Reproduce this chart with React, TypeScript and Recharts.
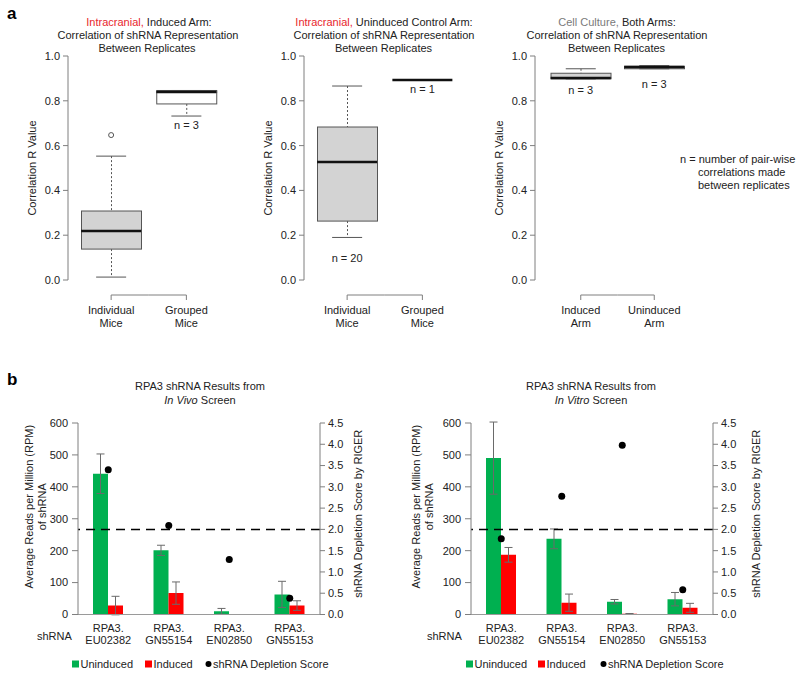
import { ComposedChart, Bar, Scatter, XAxis, YAxis, ReferenceLine, ErrorBar } from 'recharts';

const FONT = '"Liberation Sans", Arial, Helvetica, sans-serif';
const INK = '#222';
const AXIS = '#7f7f7f';
const EDGE = '#555';
const BOX_FILL = '#d3d3d3';
const GREEN = '#00b050';
const RED = '#ff0000';
const TITLE_RED = '#e8262d';

// ---- panel a: correlation between replicates ----
const MICE = ['Individual\nMice', 'Grouped\nMice'];
const ARMS = ['Induced\nArm', 'Uninduced\nArm'];
const CORR_TICKS = [0, 0.2, 0.4, 0.6, 0.8, 1];

const icInducedMin = [0.013, 0.732];
const icInducedQ1 = [0.138, 0.786];
const icInducedMedian = [0.219, 0.839];
const icInducedQ3 = [0.308, 0.846];
const icInducedMax = [0.553, 0.846];
const icInducedOutlier = [0.647, null];
const icInducedN = [41, 3];

const icUninducedMin = [0.19, 0.893];
const icUninducedQ1 = [0.263, 0.893];
const icUninducedMedian = [0.527, 0.893];
const icUninducedQ3 = [0.683, 0.893];
const icUninducedMax = [0.866, 0.893];
const icUninducedOutlier = [null, null];
const icUninducedN = [20, 1];

const cultureMin = [0.898, 0.943];
const cultureQ1 = [0.898, 0.943];
const cultureMedian = [0.902, 0.951];
const cultureQ3 = [0.923, 0.954];
const cultureMax = [0.943, 0.957];
const cultureOutlier = [null, null];
const cultureN = [3, 3];

// ---- panel b: RPA3 shRNA reads ----
const SHRNAS = ['RPA3.\nEU02382', 'RPA3.\nGN55154', 'RPA3.\nEN02850', 'RPA3.\nGN55153'];
const READS_TICKS = [0, 100, 200, 300, 400, 500, 600];
const SCORE_TICKS = [0, 0.5, 1, 1.5, 2, 2.5, 3, 3.5, 4, 4.5];
const DEPLETION_CUTOFF = 2;

const vivoUninduced = [441, 201, 10, 63];
const vivoUninducedErr = [62, 16, 9, 41];
const vivoInduced = [28, 67, 0, 28];
const vivoInducedErr = [29, 35, 0, 15];
const vivoScore = [3.4, 2.09, 1.29, 0.38];

const vitroUninduced = [490, 237, 40, 48];
const vitroUninducedErr = [113, 31, 7, 21];
const vitroInduced = [187, 37, 2, 21];
const vitroInducedErr = [23, 27, 1, 14];
const vitroScore = [1.78, 2.78, 3.98, 0.58];

const BOX_W = 60;
const CAP_W = 30;
const BOX_CHART_W = 260;
const BOX_MARGIN = { top: 56, right: 36, left: 20, bottom: 10 };
const BOX_YAXIS_W = 48;

const AxisTitle = ({ viewBox, lines, dx, dy = 0, side }: any) => {
  if (!viewBox) return null;
  const { x, y, width, height } = viewBox;
  const bx = (side === 'left' ? x + width : x) + dx;
  const cy = y + height / 2 + dy;
  return (
    <text transform={`rotate(-90 ${bx} ${cy})`} x={bx} y={cy} textAnchor="middle" fontSize={11} fill={INK}>
      {lines.map((l: string, i: number) => (
        <tspan key={i} x={bx} y={cy + i * 13}>{l}</tspan>
      ))}
    </text>
  );
};

const TwoLineTick = ({ x, y, payload, d1, d2 }: any) => {
  const lines = String(payload.value).split('\n');
  return (
    <text x={x} y={y} textAnchor="middle" fontSize={11} fill={INK}>
      {lines.map((l, i) => (
        <tspan key={i} x={x} y={y + (i === 0 ? d1 : d2)}>{l}</tspan>
      ))}
    </text>
  );
};

// R-style axis under the boxes: a bracket joining the category ticks
const BracketTick = (p: any) => {
  const { x, y, index, visibleTicksCount, padLeft } = p;
  const count = visibleTicksCount ?? 2;
  const axisW = Number.isFinite(Number(p.width))
    ? Number(p.width)
    : BOX_CHART_W - BOX_MARGIN.left - BOX_MARGIN.right - BOX_YAXIS_W;
  const half = (axisW - padLeft) / count / 2;
  const x1 = index === 0 ? x : x - half;
  const x2 = index === count - 1 ? x : x + half;
  return (
    <g>
      <line x1={x1} x2={x2} y1={y + 15} y2={y + 15} stroke={AXIS} />
      <line x1={x} x2={x} y1={y + 15} y2={y + 20} stroke={AXIS} />
      <TwoLineTick {...p} d1={33.5} d2={47} />
    </g>
  );
};

type Stats = {
  min: number[]; q1: number[]; median: number[]; q3: number[]; max: number[];
  outlier: (number | null)[]; n: number[];
};

function BoxPanel({ left, cats, stats, fills, nGap, padLeft }: { left: number; cats: string[]; stats: Stats; fills: string[]; nGap: number[]; padLeft: number }) {
  const data = cats.map((cat, i) => ({
    cat,
    base: stats.min[i],
    lowWhisker: stats.q1[i] - stats.min[i],
    lowBox: stats.median[i] - stats.q1[i],
    highBox: stats.q3[i] - stats.median[i],
    highWhisker: stats.max[i] - stats.q3[i],
    min: stats.min[i],
    median: stats.median[i],
    max: stats.max[i],
    outlier: stats.outlier[i],
    n: stats.n[i],
  }));

  const whisker = (p: any) => {
    const h = Math.abs(p.height || 0);
    if (!h) return <g />;
    const top = Math.min(p.y, p.y + p.height);
    const cx = p.x + p.width / 2;
    return <line x1={cx} x2={cx} y1={top} y2={top + h} stroke={EDGE} strokeDasharray="2 2" />;
  };
  const box = (p: any) => {
    const h = Math.abs(p.height || 0);
    if (!h) return <g />;
    const i = cats.indexOf(p.payload?.cat);
    return <rect x={p.x} y={Math.min(p.y, p.y + p.height)} width={p.width} height={h} fill={fills[i] ?? BOX_FILL} stroke={EDGE} />;
  };
  const lowCap = (p: any) => {
    if (!Number.isFinite(p.cx) || !Number.isFinite(p.cy)) return <g />;
    const i = cats.indexOf(p.payload?.cat);
    return (
      <g>
        <line x1={p.cx - CAP_W / 2} x2={p.cx + CAP_W / 2} y1={p.cy} y2={p.cy} stroke={EDGE} />
        <text x={p.cx} y={p.cy + nGap[i] + 4} textAnchor="middle" fontSize={11} fill={INK}>{`n = ${p.payload.n}`}</text>
      </g>
    );
  };
  const highCap = (p: any) => {
    if (!Number.isFinite(p.cx) || !Number.isFinite(p.cy)) return <g />;
    return <line x1={p.cx - CAP_W / 2} x2={p.cx + CAP_W / 2} y1={p.cy} y2={p.cy} stroke={EDGE} />;
  };
  const medianLine = (p: any) => {
    if (!Number.isFinite(p.cx) || !Number.isFinite(p.cy)) return <g />;
    return <line x1={p.cx - BOX_W / 2} x2={p.cx + BOX_W / 2} y1={p.cy} y2={p.cy} stroke="#111" strokeWidth={2.5} />;
  };
  const outlierDot = (p: any) => {
    if (p.payload?.outlier == null || !Number.isFinite(p.cy)) return <g />;
    return <circle cx={p.cx} cy={p.cy} r={2.5} fill="none" stroke={EDGE} />;
  };

  return (
    <div style={{ position: 'absolute', left, top: 0 }}>
      <ComposedChart width={BOX_CHART_W} height={340} data={data} margin={BOX_MARGIN}>
        <XAxis
          dataKey="cat"
          axisLine={false}
          tickLine={false}
          tickSize={0}
          tickMargin={0}
          height={50}
          interval={0}
          padding={{ left: padLeft, right: 0 }}
          tick={(p: any) => <BracketTick {...p} padLeft={padLeft} />}
        />
        <YAxis
          domain={[0, 1]}
          allowDataOverflow
          ticks={CORR_TICKS}
          tickFormatter={(v: number) => v.toFixed(1)}
          width={BOX_YAXIS_W}
          tickSize={5}
          tickMargin={3}
          axisLine={{ stroke: AXIS }}
          tickLine={{ stroke: AXIS }}
          tick={{ fill: INK, fontSize: 11 }}
          label={{ content: (p: any) => <AxisTitle viewBox={p.viewBox} lines={['Correlation R Value']} dx={-32.5} side="left" /> }}
        />
        <Bar dataKey="base" stackId="box" barSize={BOX_W} shape={() => <g />} isAnimationActive={false} />
        <Bar dataKey="lowWhisker" stackId="box" barSize={BOX_W} shape={whisker} isAnimationActive={false} />
        <Bar dataKey="lowBox" stackId="box" barSize={BOX_W} shape={box} isAnimationActive={false} />
        <Bar dataKey="highBox" stackId="box" barSize={BOX_W} shape={box} isAnimationActive={false} />
        <Bar dataKey="highWhisker" stackId="box" barSize={BOX_W} shape={whisker} isAnimationActive={false} />
        <Scatter dataKey="min" shape={lowCap} isAnimationActive={false} />
        <Scatter dataKey="max" shape={highCap} isAnimationActive={false} />
        <Scatter dataKey="median" shape={medianLine} isAnimationActive={false} />
        <Scatter dataKey="outlier" shape={outlierDot} isAnimationActive={false} />
      </ComposedChart>
    </div>
  );
}

function ReadsPanel({ left, uninduced, uninducedErr, induced, inducedErr, score, margin, leftDx, rightDx }: any) {
  const data = SHRNAS.map((name, i) => ({
    name,
    uninduced: uninduced[i],
    uninducedErr: uninducedErr[i],
    induced: induced[i],
    inducedErr: inducedErr[i],
    score: score[i],
  }));
  const dot = (p: any) => (Number.isFinite(p.cy) ? <circle cx={p.cx} cy={p.cy} r={3.5} fill="#000" /> : <g />);

  return (
    <div style={{ position: 'absolute', left, top: 400 }}>
      <ComposedChart width={400} height={278} data={data} margin={margin} barGap={0} barSize={15}>
        <XAxis
          dataKey="name"
          axisLine={{ stroke: '#9a9a9a' }}
          tickLine={false}
          tickSize={0}
          tickMargin={0}
          height={30}
          interval={0}
          tick={(p: any) => <TwoLineTick {...p} d1={17.5} d2={29} />}
        />
        <YAxis
          yAxisId="reads"
          domain={[0, 600]}
          allowDataOverflow
          ticks={READS_TICKS}
          width={45}
          tickSize={6}
          tickMargin={4}
          axisLine={{ stroke: AXIS }}
          tickLine={{ stroke: AXIS }}
          tick={{ fill: INK, fontSize: 11 }}
          label={{
            content: (p: any) => (
              <AxisTitle viewBox={p.viewBox} lines={['Average Reads per Million (RPM)', 'of shRNA']} dx={leftDx} dy={-12} side="left" />
            ),
          }}
        />
        <YAxis
          yAxisId="score"
          orientation="right"
          domain={[0, 4.5]}
          allowDataOverflow
          ticks={SCORE_TICKS}
          tickFormatter={(v: number) => v.toFixed(1)}
          width={45}
          tickSize={5}
          tickMargin={3}
          axisLine={{ stroke: AXIS }}
          tickLine={{ stroke: AXIS }}
          tick={{ fill: INK, fontSize: 11 }}
          label={{
            content: (p: any) => (
              <AxisTitle viewBox={p.viewBox} lines={['shRNA Depletion Score by RIGER']} dx={rightDx} dy={-5} side="right" />
            ),
          }}
        />
        <Bar yAxisId="reads" dataKey="uninduced" fill={GREEN} isAnimationActive={false}>
          <ErrorBar dataKey="uninducedErr" width={4} stroke="#6a6a6a" strokeWidth={1} direction="y" />
        </Bar>
        <Bar yAxisId="reads" dataKey="induced" fill={RED} isAnimationActive={false}>
          <ErrorBar dataKey="inducedErr" width={4} stroke="#6a6a6a" strokeWidth={1} direction="y" />
        </Bar>
        <ReferenceLine yAxisId="score" y={DEPLETION_CUTOFF} stroke="#000" strokeWidth={1.5} strokeDasharray="9 6" />
        <Scatter yAxisId="score" dataKey="score" fill="#000" shape={dot} isAnimationActive={false} />
      </ComposedChart>
    </div>
  );
}

const Legend = ({ x }: { x: number[] }) => (
  <g fontSize={11} fill={INK}>
    <rect x={x[0]} y={660.5} width={7} height={7} fill={GREEN} />
    <text x={x[0] + 8.5} y={668}>Uninduced</text>
    <rect x={x[1]} y={660.5} width={7} height={7} fill={RED} />
    <text x={x[1] + 8.5} y={668}>Induced</text>
    <circle cx={x[2] + 2.5} cy={664} r={3} fill="#000" />
    <text x={x[2] + 7} y={668}>shRNA Depletion Score</text>
  </g>
);

export default function App() {
  return (
    <div style={{ position: 'absolute', left: 0, top: 0, width: 800, height: 678, background: '#fff', fontFamily: FONT, overflow: 'hidden' }}>
      <BoxPanel
        left={0}
        cats={MICE}
        stats={{ min: icInducedMin, q1: icInducedQ1, median: icInducedMedian, q3: icInducedQ3, max: icInducedMax, outlier: icInducedOutlier, n: icInducedN }}
        fills={[BOX_FILL, '#ffffff']}
        nGap={[9, 9]}
        padLeft={5.5}
      />
      <BoxPanel
        left={236}
        cats={MICE}
        stats={{ min: icUninducedMin, q1: icUninducedQ1, median: icUninducedMedian, q3: icUninducedQ3, max: icUninducedMax, outlier: icUninducedOutlier, n: icUninducedN }}
        fills={[BOX_FILL, BOX_FILL]}
        nGap={[21, 9]}
        padLeft={5.5}
      />
      <BoxPanel
        left={467}
        cats={ARMS}
        stats={{ min: cultureMin, q1: cultureQ1, median: cultureMedian, q3: cultureQ3, max: cultureMax, outlier: cultureOutlier, n: cultureN }}
        fills={[BOX_FILL, BOX_FILL]}
        nGap={[11, 15]}
        padLeft={9}
      />
      <ReadsPanel
        left={0}
        uninduced={vivoUninduced}
        uninducedErr={vivoUninducedErr}
        induced={vivoInduced}
        inducedErr={vivoInducedErr}
        score={vivoScore}
        margin={{ top: 23, right: 35, left: 33, bottom: 33.5 }}
        leftDx={-45}
        rightDx={42}
      />
      <ReadsPanel
        left={400}
        uninduced={vitroUninduced}
        uninducedErr={vitroUninducedErr}
        induced={vitroInduced}
        inducedErr={vitroInducedErr}
        score={vitroScore}
        margin={{ top: 23, right: 42, left: 26, bottom: 33.5 }}
        leftDx={-51.5}
        rightDx={47}
      />
      <svg width={800} height={678} style={{ position: 'absolute', left: 0, top: 0, pointerEvents: 'none' }}>
        <g fill={INK} fontSize={11}>
          <text x={7} y={19} fontSize={17} fontWeight="bold" fill="#000">a</text>
          <text x={7} y={385} fontSize={17} fontWeight="bold" fill="#000">b</text>

          <text x={149} y={26} textAnchor="middle">
            <tspan fill={TITLE_RED}>Intracranial,</tspan>
            <tspan> Induced Arm:</tspan>
          </text>
          <text x={148} y={38.5} textAnchor="middle">Correlation of shRNA Representation</text>
          <text x={147} y={52} textAnchor="middle">Between Replicates</text>

          <text x={384} y={26} textAnchor="middle">
            <tspan fill={TITLE_RED}>Intracranial,</tspan>
            <tspan> Uninduced Control Arm:</tspan>
          </text>
          <text x={384} y={38.5} textAnchor="middle">Correlation of shRNA Representation</text>
          <text x={383.5} y={52} textAnchor="middle">Between Replicates</text>

          <text x={617} y={26} textAnchor="middle">
            <tspan fill="#7a7a7a">Cell Culture,</tspan>
            <tspan> Both Arms:</tspan>
          </text>
          <text x={617} y={38.5} textAnchor="middle">Correlation of shRNA Representation</text>
          <text x={616.5} y={52} textAnchor="middle">Between Replicates</text>

          <text x={680} y={163}>n = number of pair-wise</text>
          <text x={698} y={176}>correlations made</text>
          <text x={698} y={188.5}>between replicates</text>

          <text x={200} y={390} textAnchor="middle">RPA3 shRNA Results from</text>
          <text x={200} y={403.5} textAnchor="middle">
            <tspan fontStyle="italic">In Vivo</tspan>
            <tspan> Screen</tspan>
          </text>
          <text x={591} y={390} textAnchor="middle">RPA3 shRNA Results from</text>
          <text x={591} y={403.5} textAnchor="middle">
            <tspan fontStyle="italic">In Vitro</tspan>
            <tspan> Screen</tspan>
          </text>

          <text x={37} y={640}>shRNA</text>
          <text x={427} y={640}>shRNA</text>
        </g>
        <Legend x={[72, 145, 206]} />
        <Legend x={[466, 538, 601]} />
      </svg>
    </div>
  );
}
